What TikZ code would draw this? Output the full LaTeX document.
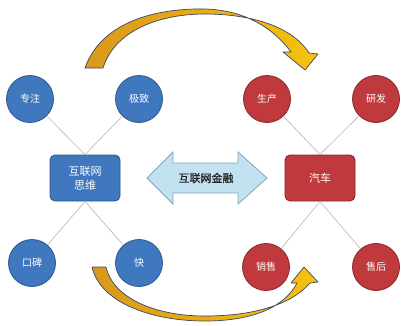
\documentclass[tikz,border=0pt]{standalone}
\usepackage{fontspec}
\newfontfamily\cjk{Noto Sans CJK SC}
\newfontfamily\cjkb[FakeBold=1.2]{Noto Sans CJK SC}
\definecolor{bfill}{HTML}{3F78BF}
\definecolor{bdraw}{HTML}{2C578A}
\definecolor{rfill}{HTML}{C0393C}
\definecolor{rdraw}{HTML}{86282A}
\definecolor{afill}{HTML}{C3E2F1}
\definecolor{adraw}{HTML}{7FA3BE}
\definecolor{lgray}{HTML}{B4B4B4}
\definecolor{orng}{HTML}{D9981C}
\definecolor{yell}{HTML}{F6C20E}
\definecolor{cdraw}{HTML}{3C4662}
\tikzset{
  bcirc/.style={circle,fill=bfill,draw=bdraw,line width=0.8pt,minimum size=47pt,inner sep=0pt,text=white,font=\cjk\fontsize{10}{12}\selectfont},
  rcirc/.style={bcirc,fill=rfill,draw=rdraw},
  bbox/.style={rectangle,rounded corners=5pt,fill=bfill,draw=bdraw,line width=0.8pt,minimum width=70pt,minimum height=46pt,inner sep=0pt,align=center,text=white,font=\cjk\fontsize{11}{14}\selectfont},
  rbox/.style={bbox,fill=rfill,draw=rdraw},
  link/.style={draw=lgray,line width=0.6pt},
  dblarrow/.style={fill=afill,draw=adraw,line width=0.8pt,line join=miter},
  curvearrow/.style={left color=orng,right color=yell,draw=cdraw,line width=0.7pt,line join=round}
}
\begin{document}
\begin{tikzpicture}[x=1pt,y=-1pt]
\useasboundingbox (0,0) rectangle (401,325);
% curved arrows
\path[curvearrow] (85,68) .. controls (100,25) and (150,8) .. (205,9)
  .. controls (240,10) and (270,24) .. (291,52)
  -- (283,52) -- (305,70) -- (318,54) -- (309,53)
  .. controls (292,26) and (250,14) .. (205,14)
  .. controls (160,14) and (115,30) .. (103,68) -- cycle;
\path[curvearrow] (92,267) .. controls (100,302) and (150,321) .. (205,321)
  .. controls (255,321) and (285,306) .. (297,283)
  -- (291,283) -- (304,267) -- (318,282) -- (310,283)
  .. controls (292,304) and (255,316) .. (205,316)
  .. controls (155,316) and (113,298) .. (106,267) -- cycle;
% left group
\node[bbox] (hlw) at (85,178) {互联网\\思维};
\node[bcirc] (zz) at (30,99) {专注};
\node[bcirc] (jz) at (139,99) {极致};
\node[bcirc] (kb) at (32,263) {口碑};
\node[bcirc] (kuai) at (139,263) {快};
% right group
\node[rbox] (qc) at (320,178) {汽车};
\node[rcirc] (sc) at (267,99) {生产};
\node[rcirc] (yf) at (376,99) {研发};
\node[rcirc] (xs) at (266,267) {销售};
\node[rcirc] (sh) at (376,267) {售后};
% links
\draw[link] (zz) -- (hlw.north);
\draw[link] (jz) -- (hlw.north);
\draw[link] (kb) -- (hlw.south);
\draw[link] (kuai) -- (hlw.south);
\draw[link] (sc) -- (qc.north);
\draw[link] (yf) -- (qc.north);
\draw[link] (xs) -- (qc.south);
\draw[link] (sh) -- (qc.south);
% double arrow
\path[dblarrow] (147,178) -- (173,152) -- (173,163) -- (238,163) -- (238,152)
  -- (267,178) -- (238,204) -- (238,193) -- (173,193) -- (173,204) -- cycle;
\node[font=\cjkb\fontsize{11}{13}\selectfont,text=black!85] (jr) at (206,178) {互联网金融};
\end{tikzpicture}
\end{document}
